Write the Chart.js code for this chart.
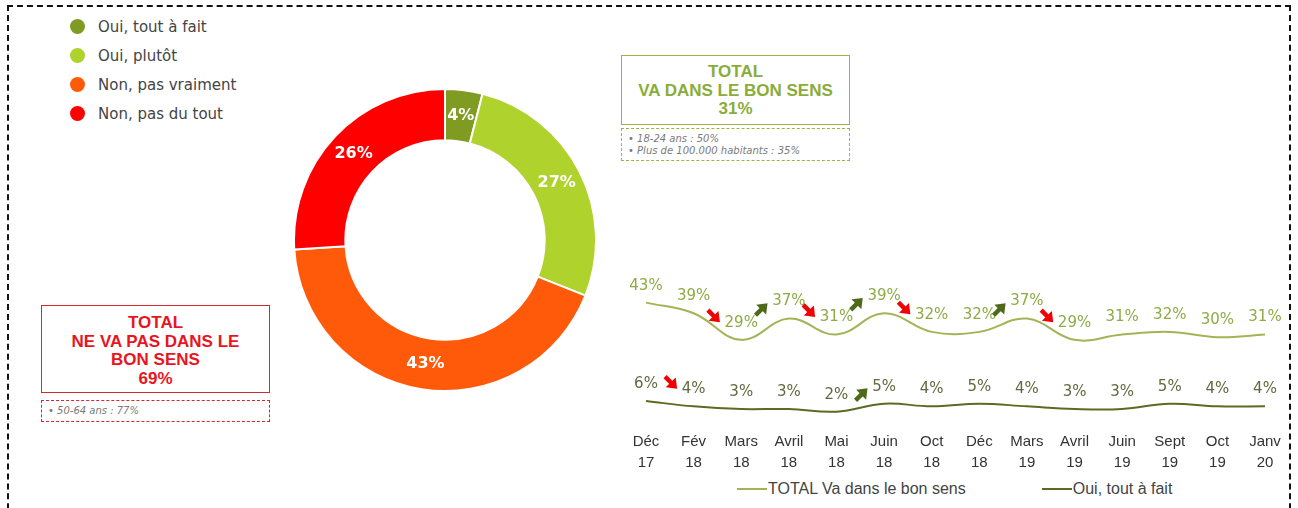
<!DOCTYPE html>
<html>
<head>
<meta charset="utf-8">
<script src="https://cdn.jsdelivr.net/npm/chart.js@4.4.1/dist/chart.umd.min.js"></script>
<style>
body { margin:0; width:1298px; height:508px; overflow:hidden; background:#fff; position:relative; font-family:"Liberation Sans", Arial, sans-serif; }
#cadre { position:absolute; left:7px; top:5px; width:1280px; height:600px; border:2px dashed #111; }
#legendeDonut { position:absolute; left:70px; top:16px; font:15px "DejaVu Sans", Verdana, sans-serif; color:#444; }
#legendeDonut div { height:29px; position:relative; padding-left:28px; line-height:22px; }
#legendeDonut span { position:absolute; left:0; top:3px; width:15px; height:15px; border-radius:50%; }
.box { position:absolute; box-sizing:border-box; text-align:center; font:bold 17px "Liberation Sans", Arial, sans-serif; line-height:18.5px; }
.note { position:absolute; box-sizing:border-box; font:italic 10px "DejaVu Sans", Verdana, sans-serif; color:#7a7a7a; line-height:12px; padding:3px 0 0 6px; }
#boxVert { left:621px; top:55px; width:229px; height:70px; border:1px solid #9ab545; color:#8aac3a; padding-top:7px; }
#noteVert { left:621px; top:128px; width:229px; height:33px; border:1px dashed #9ab545; padding-top:4px; }
#boxRouge { left:41px; top:305px; width:229px; height:88px; border:1px solid #d9262e; color:#e8141e; padding-top:8px; }
#noteRouge { left:41px; top:400px; width:229px; height:22px; border:1px dashed #d9262e; padding-top:4px; }
#donutWrap { position:absolute; left:293px; top:88px; width:304px; height:304px; }
#lineWrap { position:absolute; left:600px; top:250px; width:724px; height:225px; }
#legendeLigne { position:absolute; left:737px; top:480px; font:16px "Liberation Sans", Arial, sans-serif; color:#444; white-space:nowrap; }
#legendeLigne div { display:inline-block; margin-right:76px; }
#legendeLigne span { display:inline-block; width:30px; height:2px; vertical-align:middle; margin-right:1px; position:relative; top:-1px; }
</style>
</head>
<body>
<div id="cadre"></div>
<div id="legendeDonut"></div>
<div id="boxVert" class="box">TOTAL<br>VA DANS LE BON SENS<br>31%</div>
<div id="noteVert" class="note">• 18-24 ans : 50%<br>• Plus de 100.000 habitants : 35%</div>
<div id="boxRouge" class="box">TOTAL<br>NE VA PAS DANS LE<br>BON SENS<br>69%</div>
<div id="noteRouge" class="note">• 50-64 ans : 77%</div>
<div id="donutWrap"><canvas id="donut"></canvas></div>
<div id="lineWrap"><canvas id="ligne"></canvas></div>
<div id="legendeLigne"></div>
<script>
// --- DONNEES ---
const reponses = ["Oui, tout à fait", "Oui, plutôt", "Non, pas vraiment", "Non, pas du tout"];
const parts = [4, 27, 43, 26];
const couleursParts = ["#7f9b22", "#b0d22d", "#ff5a0a", "#fe0000"];

const mois = [["Déc","17"],["Fév","18"],["Mars","18"],["Avril","18"],["Mai","18"],["Juin","18"],["Oct","18"],
              ["Déc","18"],["Mars","19"],["Avril","19"],["Juin","19"],["Sept","19"],["Oct","19"],["Janv","20"]];
const totalBonSens = [43, 39, 29, 37, 31, 39, 32, 32, 37, 29, 31, 32, 30, 31];
const ouiToutAFait = [6, 4, 3, 3, 2, 5, 4, 5, 4, 3, 3, 5, 4, 4];
// fleches : -1 baisse, 1 hausse, 0 rien
const flechesTotal = [0, 0, -1, 1, -1, 1, -1, 0, 1, -1, 0, 0, 0, 0];
const flechesOui = [0, -1, 0, 0, 0, 1, 0, 0, 0, 0, 0, 0, 0, 0];

Chart.defaults.animation = false;

// --- LEGENDE DONUT ---
let leg = document.getElementById('legendeDonut');
reponses.forEach((r, i) => {
    leg.innerHTML += `<div><span style="background:${couleursParts[i]}"></span>${r}</div>`;
});

// --- ETIQUETTES DU DONUT ---
const etiquettesDonut = {
    id: 'etiquettesDonut',
    afterDatasetsDraw(chart) {
        let ctx = chart.ctx;
        ctx.save();
        ctx.font = 'bold 16px "DejaVu Sans", Verdana, sans-serif';
        ctx.fillStyle = '#fff'; ctx.textAlign = 'center'; ctx.textBaseline = 'middle';
        chart.getDatasetMeta(0).data.forEach((arc, i) => {
            let p = arc.tooltipPosition();
            ctx.fillText(parts[i] + '%', p.x, p.y);
        });
        ctx.restore();
    }
};

new Chart(document.getElementById('donut'), {
    type: 'doughnut',
    data: { labels: reponses, datasets: [{ data: parts, backgroundColor: couleursParts, borderColor: '#fff', borderWidth: 2 }] },
    options: {
        responsive: true, maintainAspectRatio: false, cutout: '66%',
        plugins: { legend: { display: false }, tooltip: { enabled: false } }
    },
    plugins: [etiquettesDonut]
});

// --- FLECHES + VALEURS DE LA COURBE ---
function dessinerFleche(ctx, x, y, dir) {
    ctx.save();
    ctx.translate(x, y);
    ctx.rotate(dir < 0 ? Math.PI / 4 : -Math.PI / 4);
    ctx.fillStyle = ctx.strokeStyle = dir < 0 ? '#f00000' : '#4e6a18';
    ctx.lineWidth = 4.5;
    ctx.beginPath(); ctx.moveTo(-8, 0); ctx.lineTo(2, 0); ctx.stroke();
    ctx.beginPath(); ctx.moveTo(9, 0); ctx.lineTo(0, -7); ctx.lineTo(0, 7); ctx.closePath(); ctx.fill();
    ctx.restore();
}

const valeursLigne = {
    id: 'valeursLigne',
    afterDatasetsDraw(chart) {
        let ctx = chart.ctx;
        ctx.save();
        ctx.font = '15px "DejaVu Sans", Verdana, sans-serif';
        ctx.textAlign = 'center'; ctx.textBaseline = 'middle';
        chart.data.datasets.forEach((ds, i) => {
            chart.getDatasetMeta(i).data.forEach((pt, j) => {
                let txt = ds.data[j] + '%';
                let lx = pt.x, ly = pt.y - 17;
                ctx.fillStyle = ds.couleurTexte;
                ctx.fillText(txt, lx, ly);
                let dir = ds.fleches[j];
                if (dir) {
                    let w = ctx.measureText(txt).width;
                    dessinerFleche(ctx, lx - w / 2 - 11, dir < 0 ? ly - 7 : ly + 8, dir);
                }
            });
        });
        ctx.restore();
    }
};

let seriesLigne = [
    { label: 'TOTAL Va dans le bon sens', data: totalBonSens, borderColor: '#a2b556', couleurTexte: '#8dab45', fleches: flechesTotal },
    { label: 'Oui, tout à fait', data: ouiToutAFait, borderColor: '#5b6b22', couleurTexte: '#606a40', fleches: flechesOui }
];

new Chart(document.getElementById('ligne'), {
    type: 'line',
    data: {
        labels: mois,
        datasets: seriesLigne.map(s => Object.assign({ borderWidth: 2, pointRadius: 0, tension: 0.4, fill: false }, s))
    },
    options: {
        responsive: true, maintainAspectRatio: false,
        layout: { padding: { left: 46, right: 59, top: 34, bottom: 0 } },
        plugins: { legend: { display: false }, tooltip: { enabled: false } },
        scales: {
            x: {
                grid: { display: false, drawTicks: false }, border: { display: false },
                ticks: { color: '#333', padding: 14, maxRotation: 0, autoSkip: false,
                         font: { family: '"Liberation Sans", Arial, sans-serif', size: 15, lineHeight: 1.4 } },
                afterFit(s) { s.height = 58; }
            },
            y: { display: false, min: 0, max: 50 }
        }
    },
    plugins: [valeursLigne]
});

// --- LEGENDE COURBE ---
let legL = document.getElementById('legendeLigne');
seriesLigne.forEach(s => {
    legL.innerHTML += `<div><span style="background:${s.borderColor}"></span>${s.label}</div>`;
});
</script>
</body>
</html>
